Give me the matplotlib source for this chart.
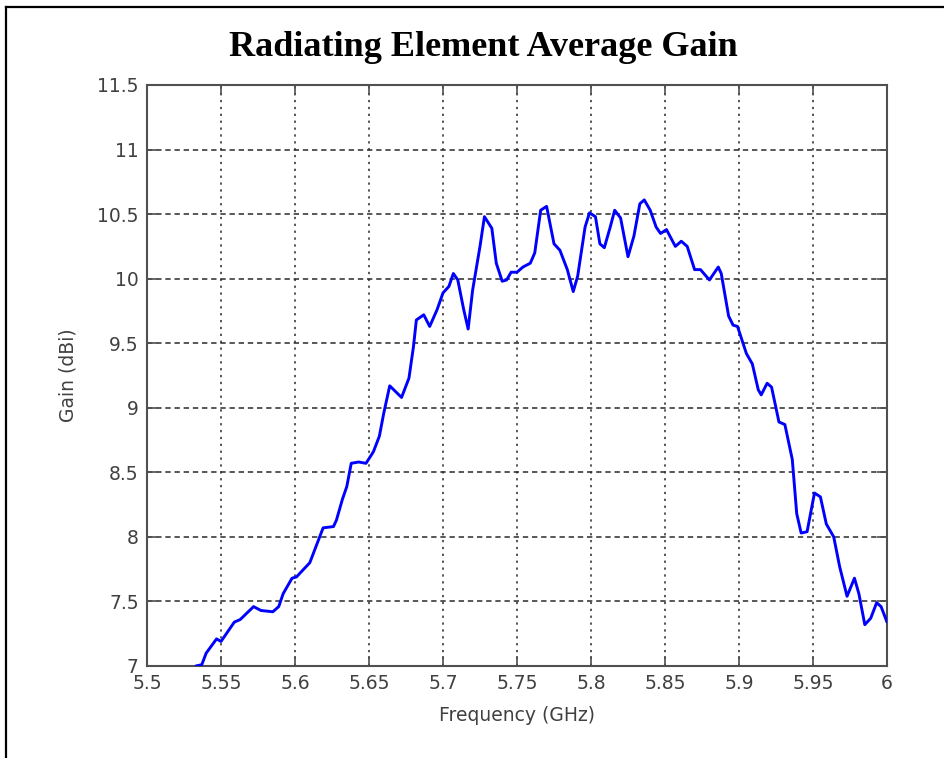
import numpy as np
import matplotlib
matplotlib.use("Agg")
import matplotlib.pyplot as plt
from matplotlib.lines import Line2D

# values
freq = [5.533, 5.537, 5.540, 5.547, 5.550, 5.559, 5.563, 5.572, 5.577, 5.585,
        5.589, 5.592, 5.598, 5.601, 5.610, 5.615, 5.619, 5.626, 5.628, 5.632,
        5.635, 5.638, 5.643, 5.648, 5.653, 5.657, 5.660, 5.664, 5.672, 5.677,
        5.680, 5.682, 5.687, 5.691, 5.696, 5.700, 5.704, 5.707, 5.710, 5.714,
        5.717, 5.720, 5.725, 5.728, 5.733, 5.736, 5.740, 5.743, 5.746, 5.750,
        5.754, 5.759, 5.762, 5.766, 5.770, 5.775, 5.779, 5.784, 5.788, 5.791,
        5.796, 5.799, 5.803, 5.806, 5.809, 5.813, 5.816, 5.820, 5.825, 5.829,
        5.833, 5.836, 5.840, 5.844, 5.847, 5.851, 5.857, 5.861, 5.865, 5.870,
        5.874, 5.880, 5.886, 5.888, 5.893, 5.896, 5.899, 5.905, 5.909, 5.913,
        5.915, 5.919, 5.922, 5.927, 5.931, 5.936, 5.939, 5.942, 5.946, 5.951,
        5.955, 5.959, 5.964, 5.968, 5.973, 5.978, 5.981, 5.985, 5.989, 5.993,
        5.996, 6.000]
gain = [7.00, 7.01, 7.10, 7.21, 7.19, 7.34, 7.36, 7.46, 7.43, 7.42,
        7.46, 7.56, 7.68, 7.69, 7.80, 7.95, 8.07, 8.08, 8.13, 8.29,
        8.39, 8.57, 8.58, 8.57, 8.66, 8.78, 8.96, 9.17, 9.08, 9.23,
        9.47, 9.68, 9.72, 9.63, 9.76, 9.89, 9.94, 10.04, 9.99, 9.76,
        9.61, 9.91, 10.25, 10.48, 10.39, 10.12, 9.98, 9.99, 10.05, 10.05,
        10.09, 10.12, 10.20, 10.53, 10.56, 10.27, 10.22, 10.07, 9.90, 10.02,
        10.40, 10.51, 10.48, 10.27, 10.24, 10.40, 10.53, 10.47, 10.17, 10.33,
        10.58, 10.61, 10.53, 10.40, 10.35, 10.38, 10.25, 10.29, 10.25, 10.07,
        10.07, 9.99, 10.09, 10.04, 9.71, 9.64, 9.63, 9.42, 9.34, 9.14,
        9.10, 9.19, 9.16, 8.89, 8.87, 8.60, 8.18, 8.03, 8.04, 8.34,
        8.31, 8.10, 8.00, 7.77, 7.54, 7.68, 7.56, 7.32, 7.37, 7.49,
        7.46, 7.34]

xticks = [5.5, 5.55, 5.6, 5.65, 5.7, 5.75, 5.8, 5.85, 5.9, 5.95, 6]
xlabels = ["5.5", "5.55", "5.6", "5.65", "5.7", "5.75", "5.8", "5.85", "5.9", "5.95", "6"]
yticks = [7, 7.5, 8, 8.5, 9, 9.5, 10, 10.5, 11, 11.5]
ylabels = ["7", "7.5", "8", "8.5", "9", "9.5", "10", "10.5", "11", "11.5"]

W, H = 944, 758
fig = plt.figure(figsize=(W / 100, H / 100), dpi=100)
ax = fig.add_axes([147 / W, 1 - 666 / H, 740 / W, 581 / H])

ax.plot(freq, gain, color="#0000ff", lw=2.1, zorder=3,
        solid_joinstyle="round", solid_capstyle="round")

ax.set_xlim(5.5, 6)
ax.set_ylim(7, 11.5)
ax.set_xticks(xticks)
ax.set_xticklabels(xlabels)
ax.set_yticks(yticks)
ax.set_yticklabels(ylabels)

gray = "#505050"
for sp in ax.spines.values():
    sp.set_color(gray)
    sp.set_linewidth(1.5)
ax.tick_params(direction="in", length=7, width=1.2, color=gray,
               top=True, right=True, labelsize=13.5, labelcolor="#404040")
ax.tick_params(axis="x", pad=6)
ax.tick_params(axis="y", pad=6)

ax.xaxis.grid(True, color="#2a2a2a", lw=1.1, linestyle=(0, (1.5, 3)))
ax.yaxis.grid(True, color="#2a2a2a", lw=1.1, linestyle=(0, (3.5, 2.5)))
ax.set_axisbelow(True)

ax.set_xlabel("Frequency (GHz)", fontsize=13.5, color="#404040", labelpad=9)
ax.set_ylabel("Gain (dBi)", fontsize=13.5, color="#404040", labelpad=14)

fig.text(483 / W, 1 - 47 / H, "Radiating Element Average Gain",
         family="Liberation Serif", weight="bold", fontsize=26,
         ha="center", va="center")

# outer frame (only top and left edges visible in the reference)
fig.add_artist(Line2D([6 / W, 6 / W], [0, 1 - 7 / H], transform=fig.transFigure,
                      color="black", lw=1.6))
fig.add_artist(Line2D([6 / W, 1], [1 - 7 / H, 1 - 7 / H], transform=fig.transFigure,
                      color="black", lw=1.6))

fig.savefig("out.png", dpi=100)
